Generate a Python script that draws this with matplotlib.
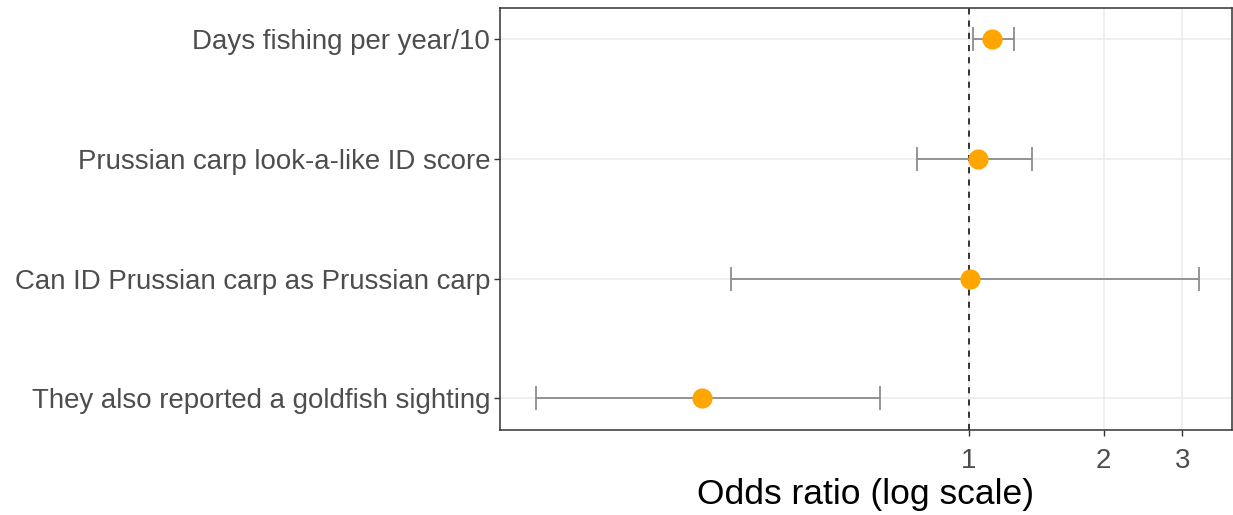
import matplotlib
matplotlib.use("Agg")
import matplotlib.pyplot as plt
from matplotlib.ticker import FixedLocator, NullLocator, FixedFormatter

plt.rcParams['font.family'] = ['Liberation Sans', 'DejaVu Sans']

# Odds ratios and 95% confidence limits, bottom to top
predictors = [
    "They also reported a goldfish sighting",
    "Can ID Prussian carp as Prussian carp",
    "Prussian carp look-a-like ID score",
    "Days fishing per year/10",
]
odds_ratio = [0.254, 1.005, 1.047, 1.125]
ci_low = [0.108, 0.294, 0.765, 1.02]
ci_high = [0.633, 3.26, 1.382, 1.26]

x_ticks = [1, 2, 3]
x_tick_labels = ["1", "2", "3"]

fig = plt.figure(figsize=(12.33, 5.15), dpi=100)
ax = fig.add_axes([500 / 1233, 85 / 515, 732 / 1233, 422 / 515])

ypos = list(range(1, len(predictors) + 1))
err_lo = [o - l for o, l in zip(odds_ratio, ci_low)]
err_hi = [h - o for o, h in zip(odds_ratio, ci_high)]

ax.set_xscale('log')
ax.set_xlim(0.0898, 3.87)
ax.set_ylim(0.735, 4.26)

# grid
for x in x_ticks:
    ax.axvline(x, color='#EBEBEB', lw=1.1, zorder=0)
for y in ypos:
    ax.axhline(y, color='#EBEBEB', lw=1.1, zorder=0)

ax.axvline(1, color='black', lw=1.1, ls=(0, (4, 4)), zorder=2)

ax.errorbar(odds_ratio, ypos, xerr=[err_lo, err_hi], fmt='none',
            ecolor='#8C8C8C', elinewidth=1.3, capsize=8.5, capthick=1.3, zorder=3)
ax.plot(odds_ratio, ypos, 'o', color='#FFA500', markersize=14.5,
        markeredgewidth=0, zorder=4)

ax.xaxis.set_major_locator(FixedLocator(x_ticks))
ax.xaxis.set_major_formatter(FixedFormatter(x_tick_labels))
ax.xaxis.set_minor_locator(NullLocator())
ax.set_yticks(ypos)
ax.set_yticklabels(predictors)

ax.tick_params(axis='both', colors='#333333', labelcolor='#4D4D4D',
               labelsize=19.9, length=4, width=1.0)
ax.tick_params(axis='y', pad=3)
ax.tick_params(axis='x', pad=9)

for s in ax.spines.values():
    s.set_color('#333333')
    s.set_linewidth(1.1)

ax.set_xlabel("Odds ratio (log scale)", fontsize=25.5, color='black', labelpad=3)

fig.savefig("out.png", dpi=100, facecolor='white')
